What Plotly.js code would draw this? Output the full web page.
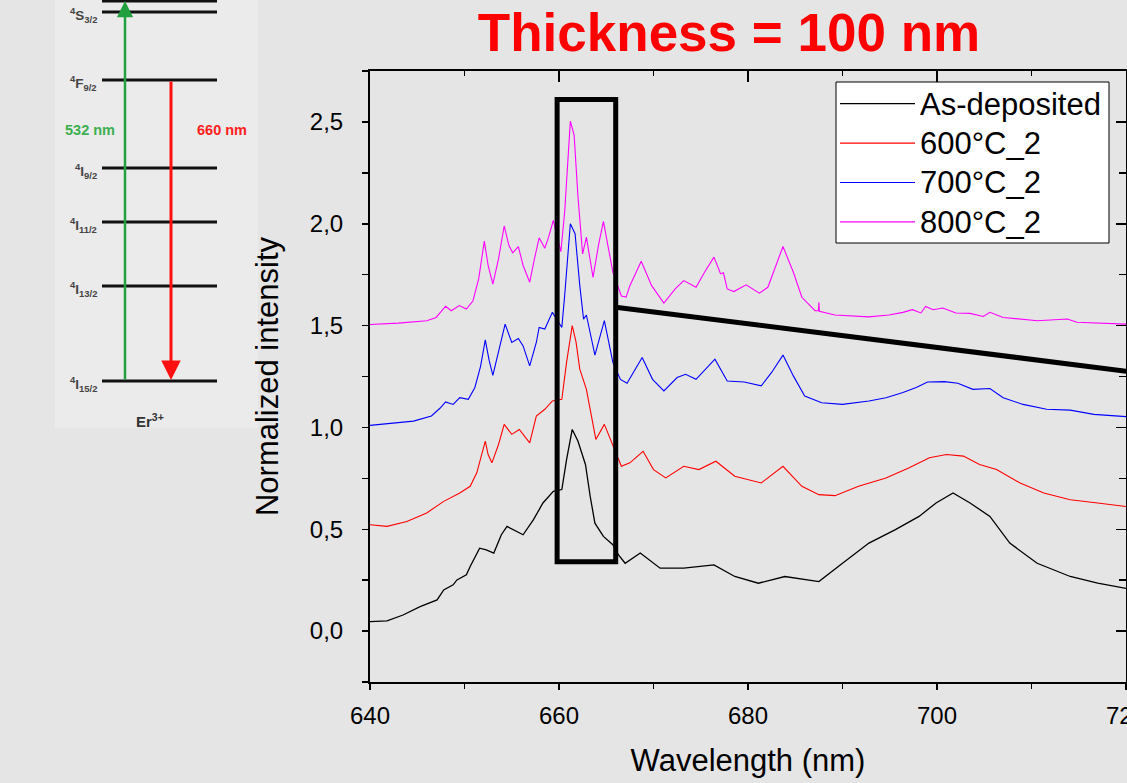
<!DOCTYPE html>
<html><head><meta charset="utf-8">
<script src="https://cdn.plot.ly/plotly-3.0.1.min.js"></script>
<style>html,body{margin:0;padding:0;background:#e5e5e5;}#chart{width:1127px;height:783px;}</style>
</head><body><div id="chart"></div>
<script>
// ---- data ----
const seriesNames = ['As-deposited', '600°C_2', '700°C_2', '800°C_2'];

const wAs = [640.0,641.8,643.5,645.3,647.1,647.8,648.8,649.2,650.2,650.6,651.6,652.3,653.1,653.9,654.5,655.2,656.2,657.3,658.3,659.4,660.3,660.8,661.4,662.0,662.8,663.3,663.8,664.7,665.7,666.3,667.0,668.6,670.7,673.2,676.4,678.6,681.1,683.9,687.5,690.0,692.8,695.6,698.1,699.9,701.7,703.5,705.6,707.7,710.6,714.1,717.0,720.0];
const iAs = [0.046,0.050,0.079,0.120,0.153,0.202,0.227,0.251,0.276,0.317,0.407,0.399,0.383,0.473,0.514,0.498,0.473,0.547,0.629,0.686,0.695,0.842,0.990,0.933,0.818,0.662,0.530,0.465,0.424,0.374,0.333,0.383,0.309,0.309,0.325,0.268,0.235,0.268,0.243,0.333,0.432,0.498,0.563,0.629,0.678,0.629,0.563,0.432,0.333,0.268,0.235,0.210];

const w600 = [640.0,641.8,643.9,646.0,647.8,649.5,650.6,651.3,652.2,652.5,652.9,653.6,654.2,655.0,655.8,656.9,657.6,658.5,659.3,660.3,660.8,661.4,661.8,662.2,662.9,663.4,663.9,664.8,665.7,666.6,667.5,668.9,670.0,671.3,673.2,674.8,676.6,678.6,681.4,683.7,685.7,687.5,689.2,691.7,694.6,697.0,699.2,701.0,702.8,704.5,706.3,708.8,711.3,714.1,717.0,720.0];
const i600 = [0.522,0.514,0.538,0.580,0.637,0.678,0.711,0.777,0.933,0.867,0.826,0.916,1.015,0.966,0.990,0.924,1.056,1.089,1.130,1.138,1.319,1.500,1.420,1.286,1.187,1.072,0.941,1.015,0.908,0.809,0.826,0.883,0.793,0.752,0.809,0.793,0.834,0.760,0.727,0.809,0.711,0.670,0.665,0.711,0.752,0.801,0.851,0.867,0.859,0.818,0.793,0.727,0.678,0.645,0.629,0.612];

const w700 = [640.0,642.5,644.6,646.5,647.4,648.0,648.8,649.5,650.4,651.1,651.7,652.2,652.6,653.0,653.8,654.3,655.0,655.7,656.2,656.9,657.6,657.9,658.5,659.3,660.3,660.6,661.2,661.7,662.2,662.6,662.9,663.8,664.8,665.7,666.5,667.2,668.8,669.9,671.1,672.5,673.4,674.5,676.5,677.8,679.6,681.4,682.5,683.7,684.8,686.0,687.8,690.0,692.8,694.6,696.4,697.8,699.0,700.8,702.2,703.8,705.6,707.0,709.1,711.6,714.1,716.6,720.0];
const i700 = [1.010,1.020,1.031,1.056,1.094,1.125,1.113,1.146,1.138,1.196,1.300,1.430,1.330,1.256,1.417,1.507,1.417,1.437,1.400,1.302,1.417,1.491,1.483,1.565,1.491,1.647,2.000,1.951,1.696,1.532,1.552,1.355,1.524,1.319,1.236,1.217,1.343,1.236,1.179,1.245,1.261,1.236,1.335,1.228,1.223,1.204,1.270,1.355,1.253,1.154,1.121,1.113,1.130,1.146,1.171,1.196,1.223,1.225,1.217,1.187,1.191,1.146,1.113,1.089,1.085,1.064,1.053];

const w800 = [640.0,643.0,646.0,647.0,648.0,648.6,649.45,650.2,650.9,651.5,652.1,652.5,653.0,653.6,654.2,654.7,655.1,655.7,656.2,656.9,657.4,657.9,658.5,658.9,659.4,660.2,660.6,661.2,661.6,662.0,662.5,662.9,663.6,664.2,664.7,665.7,666.6,667.1,667.5,668.7,669.8,671.1,672.3,673.2,674.5,675.4,676.4,677.1,677.4,677.8,678.5,679.8,681.2,682.1,683.7,684.8,685.7,687.1,687.45,687.5,687.55,689.2,692.8,694.9,696.4,697.4,698.3,698.8,699.6,700.6,702.0,703.5,704.9,705.6,707.0,710.6,713.8,714.8,720.0];
const i800 = [1.505,1.512,1.524,1.540,1.595,1.573,1.598,1.581,1.622,1.729,1.915,1.795,1.704,1.828,1.989,1.893,1.857,1.888,1.795,1.713,1.828,1.931,1.880,1.934,2.016,1.863,2.058,2.504,2.435,2.139,1.852,1.934,1.737,1.900,2.012,1.762,1.645,1.640,1.696,1.816,1.696,1.611,1.680,1.721,1.688,1.762,1.836,1.754,1.759,1.680,1.667,1.700,1.659,1.688,1.888,1.762,1.639,1.573,1.573,1.614,1.570,1.552,1.543,1.552,1.565,1.578,1.562,1.594,1.578,1.586,1.562,1.560,1.545,1.565,1.540,1.524,1.532,1.516,1.507];

const seriesColors = ['#000000', '#ff0000', '#0000ff', '#ff00ff'];
const seriesWidths = [1.3, 1.1, 1.1, 1.1];
const xTickVals = [640, 660, 680, 700, 720];
const xTickText = ['640', '660', '680', '700', '720'];

// inset (energy level diagram) labels
const levelLabels = ['<sup>4</sup>S<sub>3/2</sub>', '<sup>4</sup>F<sub>9/2</sub>', '<sup>4</sup>I<sub>9/2</sub>', '<sup>4</sup>I<sub>11/2</sub>', '<sup>4</sup>I<sub>13/2</sub>', '<sup>4</sup>I<sub>15/2</sub>'];

// ---- layout helpers (pixel -> paper) ----
const L = 370, R = 1126, T = 71, B = 682;
const fx = p => (p - L) / (R - L);
const fy = p => (B - p) / (B - T);
const FONT = 'Liberation Sans, Arial, sans-serif';

const xs = [wAs, w600, w700, w800];
const ys = [iAs, i600, i700, i800];
const traces = seriesNames.map((n, k) => ({
  x: xs[k], y: ys[k], name: '<span style="font-size:31px">' + n + '</span>', type: 'scatter', mode: 'lines',
  line: {color: seriesColors[k], width: seriesWidths[k]}
}));
traces.push({x: [], y: [], xaxis: 'x2', yaxis: 'y2', showlegend: false, hoverinfo: 'skip'});

const levelY = [12, 80, 168, 222, 286, 381];
const shapes = [];
// inset background
shapes.push({type: 'rect', xref: 'paper', yref: 'paper', x0: fx(55), x1: fx(258), y0: fy(428), y1: fy(-5), fillcolor: '#ebebeb', line: {width: 0}, layer: 'below'});
// level lines
[1].concat(levelY).forEach(py => shapes.push({type: 'line', xref: 'paper', yref: 'paper', x0: fx(102), x1: fx(217), y0: fy(py), y1: fy(py), line: {color: '#111', width: 3}}));
// highlight box and connecting line (data coords)
shapes.push({type: 'rect', xref: 'x', yref: 'y', x0: 659.8, x1: 666.0, y0: 0.34, y1: 2.61, line: {color: '#000', width: 5}});
shapes.push({type: 'line', xref: 'x', yref: 'y', x0: 666.0, x1: 720.2, y0: 1.59, y1: 1.275, line: {color: '#000', width: 5}});
// legend box
shapes.push({type: 'rect', xref: 'paper', yref: 'paper', x0: fx(836), x1: fx(1109), y0: fy(243), y1: fy(82), fillcolor: '#ffffff', line: {color: '#000', width: 1}});

const annotations = [];
levelLabels.forEach((t, k) => annotations.push({xref: 'paper', yref: 'paper', x: fx(99), y: fy(levelY[k] + 3), xanchor: 'right', yanchor: 'middle', text: '<b>' + t + '</b>', showarrow: false, font: {family: FONT, size: 13.5, color: '#444'}}));
annotations.push({xref: 'paper', yref: 'paper', x: fx(90), y: fy(130), xanchor: 'center', yanchor: 'middle', text: '<b>532 nm</b>', showarrow: false, font: {family: FONT, size: 14.5, color: '#3cb050'}});
annotations.push({xref: 'paper', yref: 'paper', x: fx(222), y: fy(130), xanchor: 'center', yanchor: 'middle', text: '<b>660 nm</b>', showarrow: false, font: {family: FONT, size: 14.5, color: '#ff2020'}});
annotations.push({xref: 'paper', yref: 'paper', x: fx(150), y: fy(420), xanchor: 'center', yanchor: 'middle', text: '<b>Er<sup>3+</sup></b>', showarrow: false, font: {family: FONT, size: 15, color: '#333'}});
// arrows
annotations.push({xref: 'paper', yref: 'paper', x: fx(125), y: fy(1), ax: 0, ay: 380, text: '', showarrow: true, arrowhead: 2, arrowsize: 1.3, arrowwidth: 2.5, arrowcolor: '#22a040'});
annotations.push({xref: 'paper', yref: 'paper', x: fx(171), y: fy(380), ax: 0, ay: -300, text: '', showarrow: true, arrowhead: 2, arrowsize: 1.3, arrowwidth: 3, arrowcolor: '#ff1010'});

const axisCommon = {showline: true, linecolor: '#000', linewidth: 2, showgrid: false, zeroline: false, tickcolor: '#000', tickwidth: 1.5};

const layout = {
  width: 1127, height: 783,
  paper_bgcolor: '#e5e5e5', plot_bgcolor: '#e5e5e5',
  margin: {l: L, r: 1127 - R, t: T, b: 783 - B, pad: 0},
  separators: ', ',
  font: {family: FONT, color: '#000'},
  title: {text: '<b>Thickness = 100 nm</b>', font: {family: FONT, size: 53, color: '#ff0000'}, xref: 'container', yref: 'container', x: 729 / 1127, xanchor: 'center', y: 1 - 32 / 783, yanchor: 'middle'},
  xaxis: Object.assign({}, axisCommon, {range: [640, 720], tickvals: xTickVals, ticktext: xTickText, ticks: 'outside', ticklen: 6,
    ticklabeloverflow: 'allow', ticklabelstandoff: 5,
    minor: {dtick: 10, ticks: 'outside', ticklen: 5, tickcolor: '#000', showgrid: false},
    tickfont: {size: 24}, title: {text: 'Wavelength (nm)', font: {size: 31}, standoff: 22}}),
  xaxis2: Object.assign({}, axisCommon, {range: [640, 720], overlaying: 'x', side: 'top', anchor: 'y', dtick: 20, tick0: 640, ticks: 'inside', ticklen: 11,
    minor: {dtick: 10, ticks: 'inside', ticklen: 5, tickcolor: '#000', showgrid: false}, showticklabels: false}),
  yaxis: Object.assign({}, axisCommon, {range: [-0.25, 2.75], dtick: 0.5, tick0: 0, tickformat: '.1f', ticks: 'outside', ticklen: 6,
    ticklabelstandoff: 14,
    minor: {dtick: 0.25, ticks: 'outside', ticklen: 6, tickcolor: '#000', showgrid: false},
    tickfont: {size: 24}, title: {text: 'Normalized intensity', font: {size: 31}, standoff: 22}}),
  yaxis2: Object.assign({}, axisCommon, {range: [-0.25, 2.75], overlaying: 'y', side: 'right', anchor: 'x', dtick: 0.5, tick0: 0, ticks: 'inside', ticklen: 10,
    minor: {dtick: 0.25, ticks: 'inside', ticklen: 7, tickcolor: '#000', showgrid: false}, showticklabels: false}),
  legend: {x: fx(835), y: fy(79), xanchor: 'left', yanchor: 'top', bgcolor: 'rgba(0,0,0,0)', borderwidth: 0,
    font: {family: FONT, size: 28, color: '#000'}, itemwidth: 75, tracegroupgap: 0},
  showlegend: true,
  shapes: shapes,
  annotations: annotations
};

Plotly.newPlot('chart', traces, layout, {staticPlot: true, displayModeBar: false});
</script></body></html>
